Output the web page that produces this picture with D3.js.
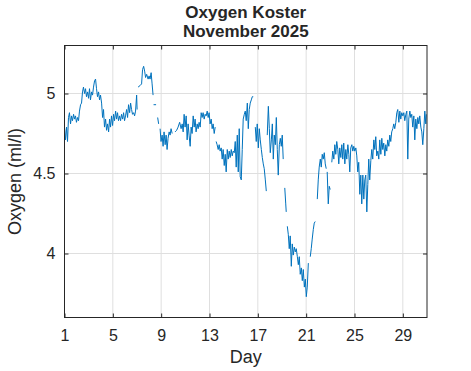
<!DOCTYPE html>
<html>
<head>
<meta charset="utf-8">
<script src="https://cdn.jsdelivr.net/npm/d3@7"></script>
<style>
  body { margin: 0; background: #fff; }
  text { font-family: "Liberation Sans", Arial, sans-serif; fill: #262626; }
</style>
</head>
<body>
<svg width="471" height="371"></svg>
<script>
// chart text
const titleLines = ['Oxygen Koster', 'November 2025']
const xLabel = 'Day'
const yLabel = 'Oxygen (ml/l)'

// axis ticks
const dayTicks = [1, 5, 9, 13, 17, 21, 25, 29]
const oxyTicks = [4, 4.5, 5]

// readings: [day, oxygen ml/l], null = gap in the record
const readings = [
  [1.00, 4.79], [1.08, 4.71], [1.17, 4.79], [1.25, 4.70], [1.33, 4.85], [1.41, 4.88],
  [1.50, 4.81], [1.58, 4.86], [1.66, 4.83], [1.75, 4.87], [1.83, 4.84], [1.91, 4.86],
  [1.99, 4.82], [2.08, 4.85], [2.16, 4.83], [2.24, 4.89], [2.33, 4.93], [2.41, 4.94],
  [2.49, 5.01], [2.57, 5.04], [2.66, 5.00], [2.74, 5.03], [2.82, 4.98], [2.91, 5.01],
  [2.99, 4.97], [3.07, 5.03], [3.15, 4.96], [3.24, 5.01], [3.32, 4.99], [3.40, 5.04],
  [3.49, 5.08], [3.57, 5.09], [3.65, 5.03], [3.73, 4.98], [3.82, 5.01], [3.90, 4.96],
  [3.98, 4.99], [4.07, 4.94], [4.15, 4.85], [4.23, 4.90], [4.31, 4.79], [4.40, 4.84],
  [4.48, 4.77], [4.56, 4.81], [4.65, 4.76], [4.73, 4.84], [4.81, 4.79], [4.89, 4.86],
  [4.98, 4.80], [5.06, 4.87], [5.14, 4.83], [5.23, 4.89], [5.31, 4.84], [5.39, 4.88],
  [5.47, 4.83], [5.56, 4.86], [5.64, 4.83], [5.72, 4.87], [5.81, 4.84], [5.89, 4.88],
  [5.97, 4.83], [6.05, 4.86], [6.14, 4.90], [6.22, 4.85], [6.30, 4.93], [6.39, 4.88],
  [6.47, 4.94], [6.55, 4.90], [6.63, 4.87], [6.72, 4.88], [6.80, 4.86], [6.88, 4.89],
  [6.97, 4.99], [7.01, 4.90], null,
  [7.09, 5.04], [7.26, 5.05], [7.38, 5.06], [7.46, 5.15], [7.55, 5.17], [7.63, 5.14],
  [7.71, 5.10], [7.80, 5.12], [7.92, 5.09], [8.00, 5.11], [8.08, 5.09], [8.17, 5.13],
  [8.25, 5.06], [8.33, 4.99], null,
  [8.37, 4.93], [8.58, 4.93], null,
  [8.71, 4.85], [8.79, 4.81], null,
  [8.91, 4.78], [8.99, 4.70], [9.08, 4.74], [9.16, 4.67], [9.24, 4.76], [9.33, 4.68],
  [9.41, 4.74], [9.49, 4.65], [9.57, 4.72], [9.66, 4.76], [9.74, 4.74], [9.82, 4.78],
  [9.91, 4.75], null,
  [10.15, 4.76], [10.28, 4.77], [10.40, 4.79], [10.53, 4.82], [10.65, 4.78], [10.74, 4.81],
  [10.82, 4.76], [10.90, 4.87], [10.98, 4.79], [11.07, 4.86], [11.15, 4.71], [11.23, 4.81],
  [11.31, 4.74], [11.40, 4.67], [11.48, 4.79], [11.56, 4.75], [11.65, 4.86], [11.73, 4.79],
  [11.81, 4.84], [11.89, 4.76], [11.98, 4.81], [12.06, 4.78], [12.14, 4.82], [12.23, 4.79],
  [12.31, 4.88], [12.39, 4.85], [12.47, 4.88], [12.56, 4.84], [12.64, 4.87], [12.72, 4.86],
  [12.81, 4.89], [12.89, 4.85], [12.97, 4.88], [13.05, 4.81], [13.14, 4.84], [13.22, 4.78],
  [13.30, 4.81], [13.39, 4.75], [13.47, 4.79], null,
  [13.55, 4.70], [13.63, 4.68], [13.72, 4.65], [13.80, 4.68], [13.88, 4.64], [13.97, 4.66],
  [14.05, 4.59], [14.13, 4.65], [14.22, 4.55], [14.30, 4.62], [14.38, 4.51], [14.47, 4.65],
  [14.55, 4.59], [14.63, 4.64], [14.71, 4.60], [14.80, 4.65], [14.88, 4.61], [14.96, 4.64],
  [15.05, 4.63], [15.13, 4.70], [15.21, 4.54], [15.30, 4.74], [15.38, 4.51], [15.46, 4.78],
  [15.54, 4.48], [15.63, 4.46], [15.71, 4.65], [15.79, 4.84], [15.88, 4.87], [15.96, 4.89],
  [16.04, 4.83], [16.13, 4.94], [16.21, 4.78], [16.29, 4.90], [16.37, 4.94], [16.46, 4.96],
  [16.54, 4.98], [16.62, 4.98], null,
  [16.79, 4.79], [16.87, 4.70], [16.95, 4.81], [17.04, 4.66], [17.12, 4.78], [17.20, 4.71],
  [17.29, 4.65], [17.37, 4.60], [17.45, 4.56], [17.53, 4.53], [17.62, 4.46], [17.70, 4.39], null,
  [17.78, 4.74], [17.87, 4.92], [17.95, 4.78], [18.03, 4.63], [18.12, 4.71], [18.20, 4.81],
  [18.28, 4.59], [18.36, 4.74], [18.45, 4.68], [18.53, 4.85], [18.61, 4.65], [18.69, 4.49],
  [18.78, 4.68], [18.86, 4.72], [18.94, 4.67], [19.02, 4.74], [19.10, 4.59], null,
  [19.23, 4.41], [19.31, 4.31], [19.35, 4.26], null,
  [19.44, 4.17], [19.52, 4.12], [19.60, 4.03], [19.68, 4.11], [19.77, 3.92], [19.85, 4.06],
  [19.93, 3.99], [20.02, 4.04], [20.10, 4.01], [20.18, 4.03], [20.27, 3.98], [20.35, 3.93],
  [20.43, 3.98], [20.51, 3.87], [20.60, 3.91], [20.68, 3.83], [20.76, 3.90], [20.85, 3.79],
  [20.93, 3.84], [21.01, 3.73], [21.09, 3.79], [21.18, 3.94], null,
  [21.34, 3.98], [21.42, 4.03], [21.50, 4.09], [21.59, 4.15], [21.67, 4.19], [21.75, 4.20], null,
  [21.92, 4.34], [22.00, 4.46], [22.08, 4.54], [22.17, 4.59], [22.25, 4.54], [22.33, 4.62],
  [22.41, 4.59], [22.50, 4.63], [22.58, 4.56], [22.66, 4.53], null,
  [22.74, 4.51], [22.83, 4.31], [22.91, 4.42], [22.99, 4.40], null,
  [23.12, 4.57], [23.20, 4.64], [23.29, 4.59], [23.37, 4.68], [23.45, 4.62], [23.53, 4.70],
  [23.62, 4.65], [23.70, 4.56], [23.78, 4.66], [23.87, 4.60], [23.95, 4.68], [24.03, 4.59],
  [24.11, 4.69], [24.20, 4.56], [24.28, 4.65], [24.36, 4.59], [24.45, 4.68], [24.53, 4.62],
  [24.61, 4.51], [24.69, 4.66], [24.78, 4.68], [24.86, 4.64], [24.94, 4.67], [25.02, 4.64],
  [25.11, 4.66], [25.19, 4.61], [25.27, 4.51], [25.35, 4.57], [25.44, 4.37], [25.52, 4.49],
  [25.60, 4.31], [25.69, 4.49], [25.77, 4.34], [25.85, 4.46], [25.93, 4.49], [26.02, 4.26],
  [26.10, 4.43], [26.18, 4.59], [26.26, 4.46], [26.35, 4.58], [26.43, 4.65], [26.51, 4.59],
  [26.60, 4.71], [26.68, 4.65], [26.76, 4.73], [26.84, 4.61], [26.93, 4.64], [27.01, 4.59],
  [27.09, 4.71], [27.18, 4.62], [27.26, 4.72], [27.34, 4.65], [27.42, 4.69], [27.51, 4.61],
  [27.59, 4.68], [27.67, 4.64], [27.75, 4.71], [27.84, 4.67], [27.92, 4.74], [28.00, 4.70],
  [28.08, 4.76], [28.17, 4.78], [28.25, 4.81], [28.33, 4.78], [28.42, 4.82], [28.50, 4.88],
  [28.58, 4.90], [28.67, 4.82], [28.75, 4.89], [28.83, 4.84], [28.91, 4.88], [29.00, 4.86],
  [29.08, 4.88], [29.16, 4.83], [29.25, 4.87], [29.33, 4.89], [29.41, 4.59], [29.49, 4.84],
  [29.58, 4.89], [29.66, 4.85], [29.74, 4.87], [29.82, 4.79], [29.91, 4.86], [29.99, 4.71],
  [30.07, 4.84], [30.16, 4.78], [30.24, 4.85], [30.32, 4.81], [30.40, 4.86], [30.49, 4.79],
  [30.57, 4.76], [30.65, 4.68], [30.74, 4.78], [30.82, 4.89], [30.90, 4.81], [30.94, 4.87]
]

const svg = d3.select('svg')
const plotL = 64.5, plotR = 427, plotT = 45.5, plotB = 317.5

const xScale = d3.scaleLinear()
    .domain([1, 31])
    .range([plotL, plotR])

const yScale = d3.scaleLinear()
    .domain([3.6, 5.3])
    .range([plotB, plotT])

// grid
svg.append('g')
    .selectAll('line')
    .data(dayTicks)
    .join('line')
    .attr('x1', d => xScale(d)).attr('x2', d => xScale(d))
    .attr('y1', plotT).attr('y2', plotB)
    .attr('stroke', '#dfdfdf')
svg.append('g')
    .selectAll('line')
    .data(oxyTicks)
    .join('line')
    .attr('x1', plotL).attr('x2', plotR)
    .attr('y1', d => yScale(d)).attr('y2', d => yScale(d))
    .attr('stroke', '#dfdfdf')

// data line
const line = d3.line()
    .defined(d => d !== null)
    .x(d => xScale(d[0]))
    .y(d => yScale(d[1]))

svg.append('path')
    .datum(readings)
    .attr('d', line)
    .attr('fill', 'none')
    .attr('stroke', '#0072BD')
    .attr('stroke-width', 1)
    .attr('stroke-linejoin', 'round')

// axes, MATLAB style: ticks inside on all four sides
const fmt = d3.format('')
const xAxisB = d3.axisBottom(xScale).tickValues(dayTicks).tickSizeInner(-4).tickSizeOuter(0).tickPadding(12).tickFormat(fmt)
const xAxisT = d3.axisTop(xScale).tickValues(dayTicks).tickSizeInner(-4).tickSizeOuter(0).tickFormat('')
const yAxisL = d3.axisLeft(yScale).tickValues(oxyTicks).tickSizeInner(-4).tickSizeOuter(0).tickPadding(9).tickFormat(fmt)
const yAxisR = d3.axisRight(yScale).tickValues(oxyTicks).tickSizeInner(-4).tickSizeOuter(0).tickFormat('')

function styleAxis(g) {
  g.select('.domain').remove()
  g.selectAll('line').attr('stroke', '#262626')
  g.selectAll('text').attr('font-size', 16).attr('fill', '#262626')
      .attr('font-family', '"Liberation Sans", Arial, sans-serif')
}

svg.append('g').attr('transform', `translate(0,${plotB})`).call(xAxisB).call(styleAxis)
svg.append('g').attr('transform', `translate(0,${plotT})`).call(xAxisT).call(styleAxis)
svg.append('g').attr('transform', `translate(${plotL},0)`).call(yAxisL).call(styleAxis)
svg.append('g').attr('transform', `translate(${plotR},0)`).call(yAxisR).call(styleAxis)

// box
svg.append('rect')
    .attr('x', plotL).attr('y', plotT)
    .attr('width', plotR - plotL).attr('height', plotB - plotT)
    .attr('fill', 'none')
    .attr('stroke', '#262626')

// labels
svg.append('text')
    .attr('x', (plotL + plotR) / 2).attr('y', 363)
    .attr('text-anchor', 'middle')
    .attr('font-size', 18)
    .text(xLabel)

svg.append('text')
    .attr('transform', `translate(21,${(plotT + plotB) / 2}) rotate(-90)`)
    .attr('text-anchor', 'middle')
    .attr('font-size', 18)
    .text(yLabel)

svg.append('g')
    .selectAll('text')
    .data(titleLines)
    .join('text')
    .attr('x', (plotL + plotR) / 2)
    .attr('y', (d, i) => 18 + i * 18.5)
    .attr('text-anchor', 'middle')
    .attr('font-size', 17)
    .attr('font-weight', 'bold')
    .attr('fill', '#000')
    .text(d => d)
</script>
</body>
</html>
